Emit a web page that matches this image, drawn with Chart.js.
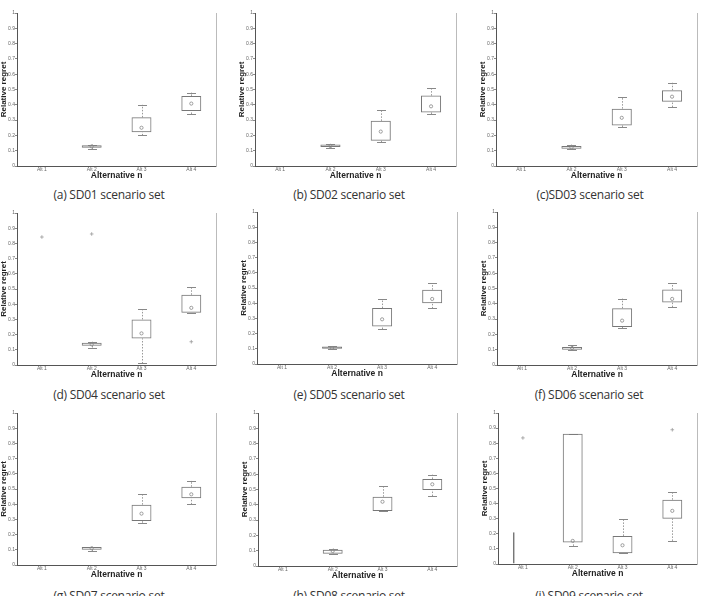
<!DOCTYPE html>
<html>
<head>
<meta charset="utf-8">
<script src="https://cdn.jsdelivr.net/npm/chart.js@4.4.1/dist/chart.umd.min.js"></script>
<style>
  html, body { margin: 0; padding: 0; background: #fff; overflow: hidden; }
  body { width: 703px; height: 596px; position: relative; }
  canvas { position: absolute; }
  .cap { position: absolute; width: 170px; text-align: center; font-family: "Open Sans", "Noto Sans", sans-serif;
         font-size: 12px; line-height: 14px; letter-spacing: -0.25px; color: #333; white-space: nowrap; }
</style>
</head>
<body>
<script>
// ---- data ----
const categories = ['Alt 1', 'Alt 2', 'Alt 3', 'Alt 4'];
const captions = ['(a) SD01 scenario set', '(b) SD02 scenario set', '(c)SD03 scenario set',
                  '(d) SD04 scenario set', '(e) SD05 scenario set', '(f) SD06 scenario set',
                  '(g) SD07 scenario set', '(h) SD08 scenario set', '(i) SD09 scenario set'];
const yTicks = [0, 0.1, 0.2, 0.3, 0.4, 0.5, 0.6, 0.7, 0.8, 0.9, 1];

// one row per scenario set (SD01..SD09), one value per alternative
const whiskerLow = [
  [null, 0.11, 0.20, 0.34],
  [null, 0.12, 0.155, 0.34],
  [null, 0.11, 0.255, 0.385],
  [null, 0.115, 0.01, 0.344],
  [null, 0.097, 0.23, 0.366],
  [null, 0.10, 0.24, 0.378],
  [null, 0.092, 0.278, 0.399],
  [null, 0.077, 0.359, 0.457],
  [0, 0.12, 0.072, 0.153]
];
const quartile1 = [
  [null, 0.12, 0.221, 0.36],
  [null, 0.125, 0.165, 0.35],
  [null, 0.112, 0.265, 0.42],
  [null, 0.127, 0.175, 0.344],
  [null, 0.10, 0.246, 0.399],
  [null, 0.10, 0.249, 0.408],
  [null, 0.101, 0.289, 0.439],
  [null, 0.08, 0.359, 0.497],
  [0, 0.142, 0.072, 0.30]
];
const quartile3 = [
  [null, 0.135, 0.318, 0.458],
  [null, 0.14, 0.295, 0.46],
  [null, 0.13, 0.375, 0.495],
  [null, 0.147, 0.30, 0.462],
  [null, 0.115, 0.368, 0.489],
  [null, 0.118, 0.371, 0.493],
  [null, 0.118, 0.397, 0.515],
  [null, 0.107, 0.453, 0.569],
  [0.21, 0.863, 0.186, 0.426]
];
const whiskerHigh = [
  [null, 0.14, 0.40, 0.48],
  [null, 0.145, 0.365, 0.51],
  [null, 0.14, 0.45, 0.545],
  [null, 0.153, 0.368, 0.514],
  [null, 0.118, 0.425, 0.531],
  [null, 0.129, 0.434, 0.533],
  [null, 0.12, 0.467, 0.555],
  [null, 0.114, 0.521, 0.597],
  [0.21, 0.863, 0.30, 0.476]
];
const means = [
  [null, 0.128, 0.25, 0.408],
  [null, 0.13, 0.225, 0.39],
  [null, 0.12, 0.315, 0.453],
  [null, 0.136, 0.208, 0.376],
  [null, 0.105, 0.294, 0.428],
  [null, 0.111, 0.29, 0.432],
  [null, 0.11, 0.338, 0.465],
  [null, 0.098, 0.42, 0.534],
  [null, 0.153, 0.124, 0.352]
];
const outlierAlt = [[], [], [], ['Alt 1', 'Alt 2', 'Alt 4'], [], [], [], [], ['Alt 1', 'Alt 4']];
const outlierVal = [[], [], [], [0.842, 0.862, 0.153], [], [], [], [], [0.835, 0.889]];

// ---- layout (plot-area pixel boxes of each panel) ----
const plotBoxes = [
  [17, 217, 13, 166], [255, 457, 13, 166], [496, 698, 13, 166],
  [17, 217, 213, 365], [257, 458, 212, 364], [497, 698, 212, 365],
  [17, 217, 413, 565], [258, 458, 413, 566], [498, 698, 413, 564]
];
const captionPos = [[109, 188], [349, 188], [590, 188], [109, 388], [349, 388], [589, 388],
                    [109, 589], [349, 589], [589, 589]];
// panel i, Alt 1: only the left edge of the box is visible
const leftEdgeOnly = { panel: 8, index: 0 };

const AXW = 17, AXH = 18, PADT = 8, PADR = 4;

const whiskerPlugin = {
  id: 'whiskers',
  beforeDatasetsDraw(chart, args, opts) {
    const ctx = chart.ctx, xs = chart.scales.x, ys = chart.scales.y;
    ctx.save();
    const seg = (x, a, b) => {
      ctx.strokeStyle = '#999'; ctx.lineWidth = 1; ctx.setLineDash([1.5, 1.5]);
      ctx.beginPath(); ctx.moveTo(x, ys.getPixelForValue(a)); ctx.lineTo(x, ys.getPixelForValue(b)); ctx.stroke();
      ctx.setLineDash([]);
    };
    const cap = (x, v) => {
      const y = Math.round(ys.getPixelForValue(v)) + 0.5;
      ctx.strokeStyle = '#888'; ctx.lineWidth = 1;
      ctx.beginPath(); ctx.moveTo(x - 4.5, y); ctx.lineTo(x + 4.5, y); ctx.stroke();
    };
    opts.low.forEach((lo, i) => {
      if (lo === null || lo === undefined) return;
      if (chart.$panel === leftEdgeOnly.panel && i === leftEdgeOnly.index) return;
      const x = Math.round(xs.getPixelForValue(i)) + 0.5;
      if (lo < opts.q1[i]) seg(x, lo, opts.q1[i]);
      cap(x, lo);
      const hi = opts.high[i];
      if (hi > opts.q3[i]) seg(x, opts.q3[i], hi);
      cap(x, hi);
    });
    ctx.restore();
  }
};

const fmt = v => String(Number(v.toFixed(1)));

plotBoxes.forEach((b, p) => {
  const [L, R, T, B] = b;
  const cv = document.createElement('canvas');
  const w = (R - L) + AXW + PADR, h = PADT + (B - T) + AXH;
  cv.width = w; cv.height = h;
  cv.style.left = (L - AXW) + 'px'; cv.style.top = (T - PADT) + 'px';
  cv.style.width = w + 'px'; cv.style.height = h + 'px';
  document.body.appendChild(cv);

  const boxes = quartile1[p].map((q, i) => (q === null ? null : [q, quartile3[p][i]]));
  const outs = outlierAlt[p].map((a, k) => ({ x: a, y: outlierVal[p][k] }));

  const chart = new Chart(cv, {
    type: 'bar',
    data: {
      labels: categories,
      datasets: [
        {
          type: 'bar', label: 'box', data: boxes,
          backgroundColor: 'rgba(255,255,255,0)', borderColor: '#777',
          borderWidth: (c) => (p === leftEdgeOnly.panel && c.dataIndex === leftEdgeOnly.index)
            ? { left: 1.5, right: 0, top: 0, bottom: 0 } : 1,
          borderSkipped: false, barPercentage: 0.4, categoryPercentage: 1, order: 2
        },
        {
          type: 'line', label: 'mean', data: means[p], showLine: false,
          pointStyle: 'circle', pointRadius: 1.6, pointBorderWidth: 0.8,
          pointBorderColor: '#888', pointBackgroundColor: 'rgba(0,0,0,0)', order: 1
        },
        {
          type: 'line', label: 'outlier', data: outs, showLine: false,
          pointStyle: 'cross', pointRadius: 1.8, pointBorderWidth: 0.8,
          pointBorderColor: '#999', order: 0
        }
      ]
    },
    options: {
      responsive: false, animation: false, devicePixelRatio: 1,
      layout: { padding: { left: 0, top: PADT, right: PADR, bottom: 0 } },
      plugins: {
        legend: { display: false }, tooltip: { enabled: false },
        whiskers: { low: whiskerLow[p], high: whiskerHigh[p], q1: quartile1[p], q3: quartile3[p] }
      },
      scales: {
        x: {
          type: 'category', offset: true,
          grid: { display: false, drawTicks: false, tickLength: 0 },
          border: { display: true, color: '#555', width: 1 },
          ticks: { font: { family: 'Liberation Sans', size: 5 }, color: '#666', padding: 1, maxRotation: 0, autoSkip: false },
          title: { display: true, text: 'Alternative n', color: '#222',
                   font: { family: 'Liberation Sans', size: 8.5, weight: 'bold', lineHeight: 1 }, padding: { top: 0, bottom: 4 } },
          afterFit: (s) => { s.height = AXH; }
        },
        y: {
          type: 'linear', position: 'left', min: 0, max: 1,
          afterBuildTicks: (s) => { s.ticks = yTicks.map(v => ({ value: v })); },
          grid: { display: true, drawOnChartArea: false, drawTicks: true, tickLength: 2, color: '#888' },
          border: { display: true, color: '#555', width: 1 },
          ticks: { font: { family: 'Liberation Sans', size: 5 }, color: '#666', padding: 0, autoSkip: false,
                   callback: (v) => fmt(v) },
          title: { display: true, text: 'Relative regret', color: '#222',
                   font: { family: 'Liberation Sans', size: 8, weight: 'bold', lineHeight: 1 }, padding: { top: -0.5, bottom: 0 } },
          afterFit: (s) => { s.width = AXW; }
        },
        y2: {
          type: 'linear', position: 'right', min: 0, max: 1,
          grid: { display: false, drawTicks: false },
          border: { display: true, color: '#bbb', width: 1 },
          ticks: { display: false },
          afterFit: (s) => { s.width = 0; }
        }
      }
    },
    plugins: [whiskerPlugin]
  });
  chart.$panel = p;
  chart.update();

  const c = document.createElement('div');
  c.className = 'cap';
  c.textContent = captions[p];
  c.style.left = (captionPos[p][0] - 85) + 'px';
  c.style.top = captionPos[p][1] + 'px';
  document.body.appendChild(c);
});
</script>
</body>
</html>
